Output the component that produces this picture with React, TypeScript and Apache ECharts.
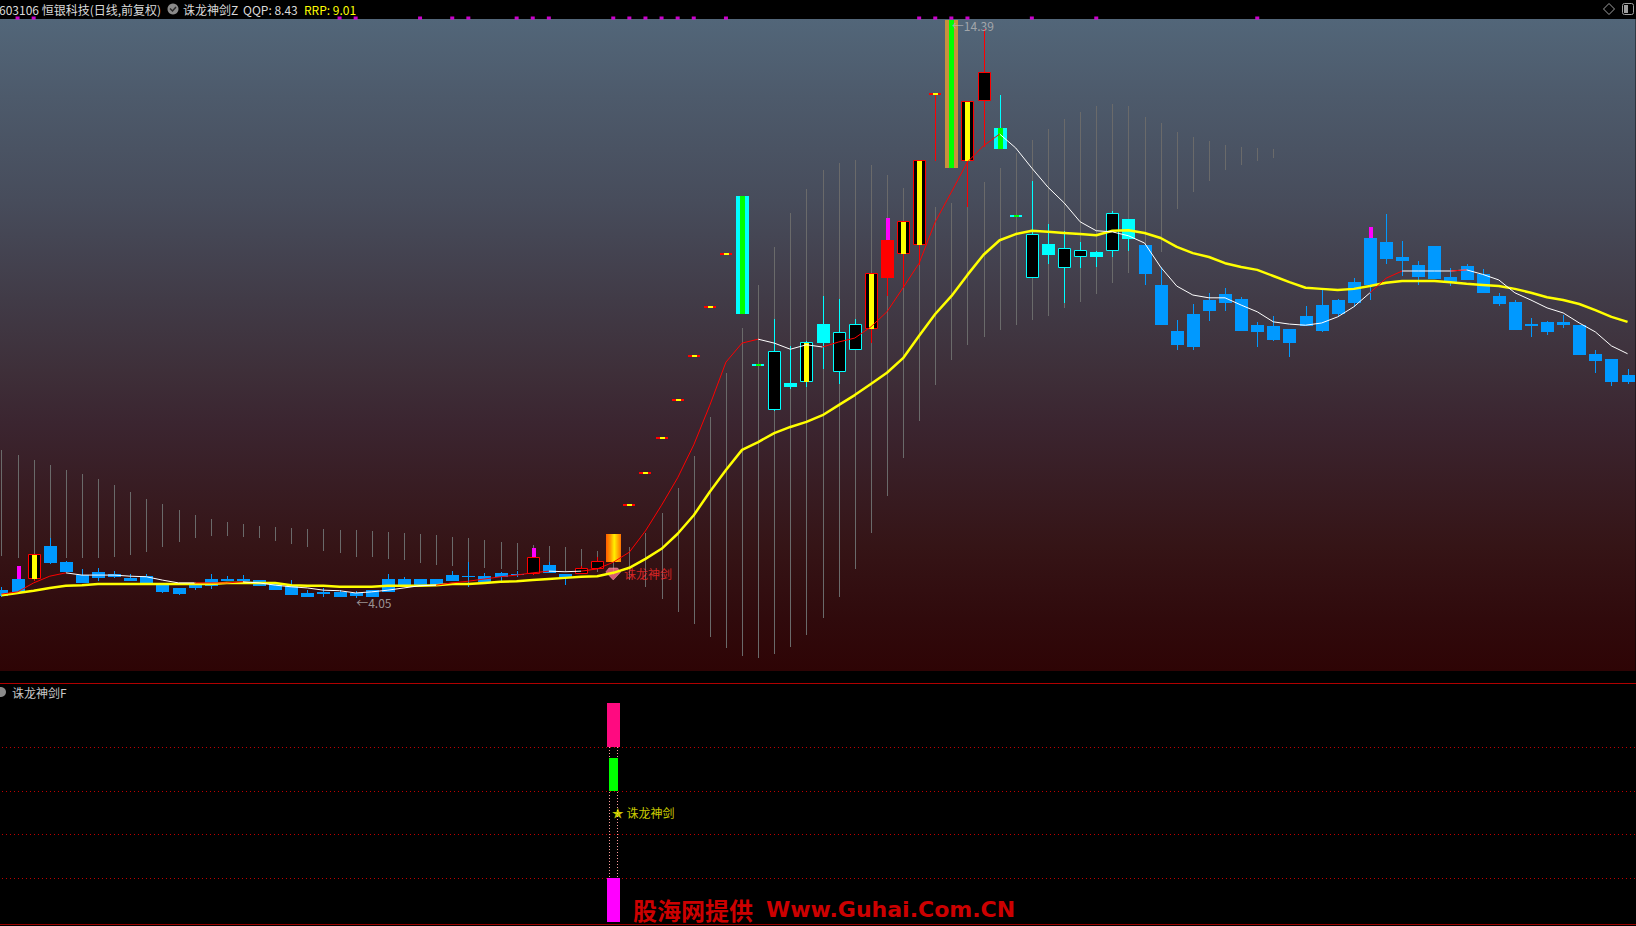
import React, { useEffect, useRef } from "react";
import * as echarts from "echarts";

const N = 102;
const categories: string[] = Array.from({ length: N }, (_, i) => `K${i + 1}`);

// ---- K-line values (price) ----
const opens = [
  4.19, 4.39, 4.39, 4.98, 4.69, 4.46, 4.52, 4.48, 4.41, 4.44,
  4.28, 4.23, 4.28, 4.39, 4.39, 4.39, 4.37, 4.30, 4.27, 4.14,
  4.16, 4.16, 4.14, 4.07, 4.16, 4.39, 4.39, 4.39, 4.46, 4.44,
  4.44, 4.50, 4.48, 4.48, 4.64, 4.48, 4.48, 4.57, 4.69, 5.71,
  6.28, 6.91, 7.60, 8.38, 9.26, 10.20, 11.24, 8.22, 7.41, 7.90,
  7.91, 8.95, 8.09, 8.49, 8.86, 9.77, 10.20, 10.37, 13.07, 14.39,
  11.87, 12.94, 12.46, 10.88, 9.77, 10.38, 9.95, 10.15, 10.24, 10.26,
  10.83, 10.37, 9.65, 8.83, 8.54, 9.38, 9.49, 9.40, 8.93, 8.92,
  8.86, 9.10, 8.83, 9.38, 9.33, 9.65, 10.42, 10.15, 10.01, 10.35,
  9.79, 9.99, 9.84, 9.45, 9.35, 8.95, 8.99, 8.99, 8.93, 8.42,
  8.33, 8.04,
];
const closes = [
  4.08, 4.16, 4.84, 4.68, 4.52, 4.32, 4.41, 4.43, 4.35, 4.32,
  4.16, 4.12, 4.23, 4.27, 4.35, 4.35, 4.27, 4.19, 4.10, 4.07,
  4.12, 4.07, 4.09, 4.19, 4.39, 4.27, 4.28, 4.28, 4.35, 4.43,
  4.34, 4.43, 4.46, 4.78, 4.50, 4.41, 4.59, 4.71, 5.19, 5.71,
  6.28, 6.91, 7.60, 8.38, 9.26, 10.20, 9.13, 8.22, 8.47, 7.82,
  8.63, 8.61, 8.81, 8.95, 9.86, 10.45, 10.79, 11.89, 13.07, 11.74,
  12.94, 13.46, 12.08, 10.88, 10.56, 10.19, 10.31, 10.28, 10.15, 10.94,
  10.47, 9.84, 8.93, 8.58, 9.13, 9.18, 9.33, 8.83, 8.81, 8.67,
  8.61, 8.92, 9.29, 9.13, 9.70, 10.49, 10.11, 10.08, 9.79, 9.76,
  9.70, 9.74, 9.51, 9.31, 8.84, 8.92, 8.81, 8.93, 8.40, 8.29,
  7.91, 7.91,
];
const lows = [
  4.06, 4.14, 4.35, 4.66, 4.52, 4.32, 4.35, 4.41, 4.35, 4.32,
  4.14, 4.10, 4.19, 4.21, 4.35, 4.35, 4.27, 4.19, 4.10, 4.06,
  4.07, 4.07, 4.05, 4.06, 4.16, 4.27, 4.28, 4.28, 4.35, 4.25,
  4.34, 4.34, 4.43, 4.46, 4.50, 4.28, 4.48, 4.57, 4.69, 5.71,
  6.28, 6.91, 7.60, 8.38, 9.26, 10.20, 9.13, 8.22, 7.40, 7.79,
  7.82, 8.15, 7.88, 8.49, 8.61, 9.45, 9.60, 10.01, 11.87, 11.74,
  11.04, 12.12, 12.08, 10.88, 9.77, 10.02, 9.33, 9.95, 9.97, 10.15,
  10.26, 9.65, 8.93, 8.49, 8.49, 9.01, 9.18, 8.83, 8.54, 8.65,
  8.36, 8.92, 8.81, 9.10, 9.26, 9.38, 10.02, 9.81, 9.65, 9.76,
  9.63, 9.74, 9.51, 9.27, 8.84, 8.72, 8.76, 8.88, 8.40, 8.08,
  7.84, 7.88,
];
const highs = [
  4.25, 4.62, 4.84, 5.12, 4.71, 4.57, 4.59, 4.53, 4.48, 4.48,
  4.28, 4.23, 4.34, 4.48, 4.44, 4.46, 4.37, 4.30, 4.37, 4.19,
  4.23, 4.19, 4.18, 4.19, 4.48, 4.43, 4.39, 4.39, 4.53, 4.69,
  4.50, 4.52, 4.53, 4.94, 4.69, 4.48, 4.62, 4.78, 5.19, 5.71,
  6.28, 6.91, 7.60, 8.38, 9.26, 10.20, 11.24, 8.22, 9.04, 8.56,
  8.65, 9.45, 9.40, 9.04, 9.86, 10.85, 10.79, 11.89, 13.07, 14.39,
  12.94, 14.23, 13.05, 10.88, 11.51, 10.74, 10.62, 10.42, 10.26, 10.97,
  10.83, 10.37, 9.97, 9.02, 9.31, 9.51, 9.60, 9.43, 8.99, 9.10,
  8.86, 9.27, 9.56, 9.40, 9.77, 10.69, 10.92, 10.44, 10.08, 10.35,
  9.95, 10.02, 9.94, 9.51, 9.38, 9.06, 9.01, 9.11, 8.93, 8.49,
  8.33, 8.15,
];
// indicator state of each bar
const candleKinds = [
  "B", "B", "RY", "B", "B", "B", "B", "B", "B", "B",
  "B", "B", "B", "B", "B", "B", "B", "B", "B", "B",
  "B", "B", "B", "B", "B", "B", "B", "B", "B", "B",
  "B", "B", "B", "RH", "B", "B", "RH", "RH", "G", "DR",
  "DR", "DR", "DR", "DR", "DR", "DR", "CG", "DC", "CH", "C",
  "CY", "C", "CH", "CH", "RY", "R", "RY", "RY", "DR", "OG",
  "RY", "RH", "CG", "DC", "CH", "C", "CH", "CH", "C", "CH",
  "C", "B", "B", "B", "B", "B", "B", "B", "B", "B",
  "B", "B", "B", "B", "B", "B", "B", "B", "B", "B",
  "B", "B", "B", "B", "B", "B", "B", "B", "B", "B",
  "B", "B",
];
const magentaUpper = [1, 33, 55, 85];

// ---- moving averages ----
const maShort = [
  4.12, 4.16, 4.32, 4.44, 4.50, 4.46, 4.46, 4.46, 4.44, 4.43,
  4.37, 4.32, 4.32, 4.32, 4.32, 4.34, 4.32, 4.28, 4.25, 4.23,
  4.19, 4.18, 4.14, 4.16, 4.19, 4.23, 4.27, 4.28, 4.32, 4.35,
  4.39, 4.43, 4.46, 4.50, 4.53, 4.52, 4.53, 4.57, 4.69, 4.87,
  5.25, 5.71, 6.20, 6.79, 7.50, 8.27, 8.61, 8.68, 8.61, 8.50,
  8.58, 8.54, 8.63, 8.70, 8.90, 9.17, 9.60, 10.04, 10.78, 11.31,
  11.85, 12.14, 12.35, 12.10, 11.74, 11.40, 11.12, 10.78, 10.62, 10.60,
  10.53, 10.40, 9.97, 9.63, 9.47, 9.42, 9.42, 9.29, 9.17, 8.99,
  8.95, 8.93, 8.97, 9.08, 9.26, 9.51, 9.77, 9.90, 9.90, 9.90,
  9.90, 9.92, 9.84, 9.74, 9.51, 9.38, 9.24, 9.15, 8.97, 8.81,
  8.56, 8.42,
];
const redRuns = [[0, 4], [12, 15], [27, 34], [36, 47], [51, 62], [85, 87], [90, 91]];
const maLong = [
  4.10, 4.14, 4.18, 4.23, 4.27, 4.28, 4.30, 4.30, 4.30, 4.30,
  4.30, 4.30, 4.30, 4.30, 4.32, 4.32, 4.32, 4.32, 4.28, 4.27,
  4.27, 4.25, 4.25, 4.25, 4.27, 4.27, 4.27, 4.28, 4.30, 4.30,
  4.32, 4.34, 4.35, 4.37, 4.39, 4.41, 4.43, 4.44, 4.50, 4.59,
  4.75, 4.93, 5.20, 5.53, 5.95, 6.34, 6.70, 6.84, 7.00, 7.11,
  7.20, 7.32, 7.50, 7.68, 7.88, 8.08, 8.34, 8.74, 9.13, 9.45,
  9.83, 10.19, 10.45, 10.56, 10.62, 10.60, 10.58, 10.56, 10.54, 10.62,
  10.63, 10.58, 10.49, 10.33, 10.22, 10.15, 10.04, 9.97, 9.92, 9.81,
  9.70, 9.60, 9.58, 9.56, 9.58, 9.63, 9.69, 9.72, 9.72, 9.72,
  9.70, 9.67, 9.65, 9.63, 9.58, 9.51, 9.43, 9.38, 9.31, 9.20,
  9.08, 8.99,
];

// ---- grey indicator sticks (bars 0..79) ----
const stickTops = [
  6.70, 6.61, 6.52, 6.43, 6.34, 6.27, 6.18, 6.07, 5.95, 5.82,
  5.73, 5.62, 5.53, 5.46, 5.41, 5.37, 5.34, 5.32, 5.30, 5.28,
  5.28, 5.27, 5.27, 5.25, 5.23, 5.21, 5.20, 5.18, 5.14, 5.12,
  5.09, 5.05, 5.03, 5.00, 4.98, 4.96, 4.93, 4.89, 4.93, 4.96,
  5.21, 5.57, 6.02, 6.59, 7.29, 8.08, 8.88, 9.65, 10.33, 10.94,
  11.37, 11.71, 11.83, 11.89, 11.80, 11.62, 11.38, 11.22, 11.04, 11.12,
  11.26, 11.49, 11.74, 12.01, 12.24, 12.44, 12.62, 12.74, 12.85, 12.89,
  12.85, 12.65, 12.55, 12.39, 12.30, 12.23, 12.15, 12.12, 12.10, 12.08,
];
const stickBottoms = [
  4.80, 4.77, 4.77, 4.77, 4.77, 4.77, 4.77, 4.78, 4.82, 4.87,
  4.96, 5.05, 5.12, 5.16, 5.16, 5.14, 5.12, 5.07, 5.02, 4.96,
  4.89, 4.86, 4.78, 4.78, 4.75, 4.73, 4.68, 4.64, 4.62, 4.61,
  4.59, 4.57, 4.55, 4.53, 4.53, 4.53, 4.52, 4.52, 4.46, 4.37,
  4.25, 4.03, 3.80, 3.59, 3.36, 3.15, 3.02, 2.98, 3.04, 3.18,
  3.39, 3.69, 4.07, 4.57, 5.21, 5.87, 6.55, 7.22, 7.86, 8.31,
  8.58, 8.72, 8.84, 8.93, 9.02, 9.10, 9.24, 9.35, 9.49, 9.69,
  9.86, 10.04, 10.24, 11.01, 11.31, 11.51, 11.71, 11.80, 11.87, 11.92,
];

const topMarks = [1, 2, 21, 22, 26, 28, 29, 32, 33, 34, 38, 39, 40, 41, 42, 43, 45, 57, 58, 59, 60, 64, 68, 78];
const extremeIdx = [59, 22];
const extremeVal = [14.39, 4.05];
const extremeText = ["←14.39", "←4.05"];
const signalIndex = 38;
const signalMarkPrice = 4.48;
const signalName = "诛龙神剑";
// lower panel
const sigFrom = [80, 60, 0];
const sigTo = [100, 75, 20];
const panelLevels = [20, 40, 60, 80];
const starLevel = 50;

const header = { code: "603106 恒银科技(日线,前复权)", ind: "诛龙神剑Z", qqp: "QQP: 8.43", rrp: "RRP: 9.01" };

// ---- styles ----
const FONT = '"Noto Sans CJK SC", "Noto Sans", sans-serif';
const KIND_COLOR: Record<string, string> = {
  B: "#0099FF", C: "#00FFFF", CH: "#00FFFF", CY: "#00FFFF",
  R: "#FF0000", RH: "#FF0000", RY: "#FF0000",
  CG: "#00FFFF", OG: "#C8913C", DR: "#FF0000", DC: "#00FFFF", G: "#FF9900",
};
const YELLOW = "#FFFF00";
const GREEN = "#00FF00";
const MAGENTA = "#FF00FF";
const sigColors = ["#FF0A80", "#00FF00", "#FF00FF"];
const sigHalf = [6, 4, 6];
const sigWidth = [13, 9, 13];

// chart canvas is shifted left by OX px inside a clipped page box
const OX = 7;
const PAGE_W = 1636;
const PAGE_H = 926;

const segRed = (k: number) => redRuns.some(([a, b]) => a <= k && k + 1 <= b);
const maShortRed = maShort.map((v, i) => ((i > 0 && segRed(i - 1)) || (i < N - 1 && segRed(i)) ? v : null));
const maShortWhite = maShort.map((v, i) => ((i > 0 && !segRed(i - 1)) || (i < N - 1 && !segRed(i)) ? v : null));

function renderCandle(params: any, api: any) {
  const idx = params.dataIndex;
  const kind = candleKinds[idx];
  const i = api.value(0);
  const pO = api.coord([i, api.value(1)]);
  const yC = api.coord([i, api.value(2)])[1];
  const yL = api.coord([i, api.value(3)])[1];
  const yH = api.coord([i, api.value(4)])[1];
  const cx = Math.round(pO[0]);
  const yO = pO[1];
  const top = Math.round(Math.min(yO, yC));
  const bot = Math.round(Math.max(yO, yC));
  const w = 13;
  const x0 = cx - 6;
  const wx = cx + 0.5;
  const col = KIND_COLOR[kind];
  const ch: any[] = [];
  const wick = (c: string) => ({
    type: "line",
    shape: { x1: wx, y1: Math.round(yH), x2: wx, y2: Math.round(yL) },
    style: { stroke: c, lineWidth: 1 },
  });
  const h = Math.max(bot - top, 1);
  if (kind === "B" || kind === "C" || kind === "R") {
    ch.push(wick(col));
    ch.push({ type: "rect", shape: { x: x0, y: top, width: w, height: h }, style: { fill: col } });
  } else if (kind === "CH" || kind === "RH" || kind === "CY" || kind === "RY") {
    ch.push(wick(col));
    ch.push({
      type: "rect",
      shape: { x: x0 + 0.5, y: top + 0.5, width: w - 1, height: Math.max(bot - top - 1, 1) },
      style: { fill: "#000", stroke: col, lineWidth: 1 },
    });
    if (kind === "CY" || kind === "RY") {
      ch.push({ type: "rect", shape: { x: cx - 2, y: top + 1, width: 5, height: Math.max(bot - top - 1, 1) }, style: { fill: YELLOW } });
    }
  } else if (kind === "G") {
    ch.push({
      type: "rect",
      shape: { x: x0 - 1, y: top, width: w + 2, height: h },
      style: {
        fill: new echarts.graphic.LinearGradient(0, 0, 1, 0, [
          { offset: 0, color: "#FF5A00" },
          { offset: 0.3, color: "#FF9A00" },
          { offset: 0.55, color: "#FFF000" },
          { offset: 0.8, color: "#FFA800" },
          { offset: 1, color: "#FF7000" },
        ]),
      },
    });
  } else if (kind === "CG" || kind === "OG") {
    ch.push(wick(col));
    ch.push({ type: "rect", shape: { x: x0, y: top, width: w, height: h }, style: { fill: col } });
    ch.push({ type: "rect", shape: { x: cx - 2, y: top, width: 5, height: h }, style: { fill: GREEN } });
  } else if (kind === "DR" || kind === "DC") {
    if (yL - yH > 1) ch.push(wick(col));
    const yy = Math.round(yC) - 1;
    ch.push({ type: "rect", shape: { x: x0, y: yy, width: 12, height: 2 }, style: { fill: col } });
    ch.push({ type: "rect", shape: { x: cx - 2, y: yy, width: 5, height: 2 }, style: { fill: kind === "DR" ? YELLOW : GREEN } });
  }
  if (magentaUpper.includes(idx)) {
    const yh = Math.round(yH);
    ch.push({ type: "rect", shape: { x: cx - 1, y: yh, width: 4, height: Math.max(top - yh, 1) }, style: { fill: MAGENTA } });
  }
  return { type: "group", children: ch };
}

function renderStick(params: any, api: any) {
  const i = api.value(0);
  const p1 = api.coord([i, api.value(1)]);
  const p2 = api.coord([i, api.value(2)]);
  const x = Math.round(p1[0]) + 0.5;
  return {
    type: "line",
    shape: { x1: x, y1: Math.round(p1[1]), x2: x, y2: Math.round(p2[1]) },
    style: { stroke: "#6a6a6a", lineWidth: 1 },
  };
}

function renderSignalBar(params: any, api: any) {
  const k = params.dataIndex;
  const i = api.value(0);
  const p1 = api.coord([i, api.value(1)]);
  const p2 = api.coord([i, api.value(2)]);
  const cx = Math.round(p1[0]);
  return {
    type: "rect",
    shape: { x: cx - sigHalf[k], y: Math.round(p2[1]), width: sigWidth[k], height: Math.round(p1[1]) - Math.round(p2[1]) },
    style: { fill: sigColors[k] },
  };
}

function renderSignalGuide(params: any, api: any) {
  const i = api.value(0);
  const p1 = api.coord([i, api.value(1)]);
  const p2 = api.coord([i, api.value(2)]);
  const cx = Math.round(p1[0]);
  const mk = (x: number) => ({
    type: "line",
    shape: { x1: x, y1: Math.round(p2[1]), x2: x, y2: Math.round(p1[1]) },
    style: { stroke: "#FF9C9C", lineWidth: 1, lineDash: [1, 2] },
  });
  return { type: "group", children: [mk(cx - 4 + 0.5), mk(cx + 4 + 0.5)] };
}

function renderLevel(params: any, api: any) {
  const cs = params.coordSys;
  const y = Math.round(api.coord([0, api.value(1)])[1]) + 0.5;
  return {
    type: "line",
    shape: { x1: OX + 2, y1: y, x2: cs.x + cs.width, y2: y },
    style: { stroke: "#C00000", lineWidth: 1, lineDash: [1, 3] },
  };
}

const gridLeft = 0.4;
const gridRight = 0.4;

function buildOption(): any {
  const xAxis = [0, 1, 2].map((g) => ({
    type: "category",
    gridIndex: g,
    data: categories,
    boundaryGap: true,
    show: false,
  }));
  const text = (x: number, y: number, t: string, fill: string, extra: any = {}) => ({
    type: "text",
    x: x + OX,
    y,
    silent: true,
    style: { text: t, fill, fontSize: 12, fontFamily: FONT, verticalAlign: "middle", align: "left", ...extra },
  });
  return {
    animation: false,
    backgroundColor: "#000",
    grid: [
      {
        left: gridLeft, right: gridRight, top: 19, height: 652, show: true, borderWidth: 0,
        backgroundColor: {
          type: "linear", x: 0, y: 0, x2: 0, y2: 1,
          colorStops: [
            { offset: 0, color: "#526679" },
            { offset: 0.12, color: "#4d5a6b" },
            { offset: 0.28, color: "#474c5b" },
            { offset: 0.43, color: "#413b47" },
            { offset: 0.54, color: "#3e2f39" },
            { offset: 0.62, color: "#3b2530" },
            { offset: 0.81, color: "#351416" },
            { offset: 0.92, color: "#300a0c" },
            { offset: 1, color: "#2e0405" },
          ],
        },
      },
      { left: gridLeft, right: gridRight, top: 15, height: 6 },
      { left: gridLeft, right: gridRight, top: 703, height: 219 },
    ],
    xAxis,
    yAxis: [
      { type: "value", gridIndex: 0, min: 2.744, max: 14.408, show: false },
      { type: "value", gridIndex: 1, min: 0, max: 1, show: false },
      { type: "value", gridIndex: 2, min: 0, max: 100, show: false },
    ],
    series: [
      {
        type: "custom", name: "sticks", xAxisIndex: 0, yAxisIndex: 0,
        renderItem: renderStick,
        encode: { x: 0, y: [1, 2] },
        data: stickTops.map((t, i) => [i, t, stickBottoms[i]]),
        silent: true,
      },
      {
        type: "custom", name: "kline", xAxisIndex: 0, yAxisIndex: 0,
        renderItem: renderCandle,
        encode: { x: 0, y: [1, 2, 3, 4] },
        data: opens.map((o, i) => [i, o, closes[i], lows[i], highs[i]]),
        silent: true,
      },
      {
        type: "line", name: "MA long", xAxisIndex: 0, yAxisIndex: 0, data: maLong,
        symbol: "none", lineStyle: { color: "#FFFF00", width: 2.5 }, silent: true,
      },
      {
        type: "line", name: "MA short", xAxisIndex: 0, yAxisIndex: 0, data: maShortWhite,
        symbol: "none", connectNulls: false, lineStyle: { color: "#FFFFFF", width: 1 }, silent: true,
      },
      {
        type: "line", name: "MA short up", xAxisIndex: 0, yAxisIndex: 0, data: maShortRed,
        symbol: "none", connectNulls: false, lineStyle: { color: "#FF0000", width: 1 }, silent: true,
      },
      {
        type: "scatter", name: "extremes", xAxisIndex: 0, yAxisIndex: 0,
        data: extremeIdx.map((ix, k) => [ix, extremeVal[k]]),
        symbolSize: 1, itemStyle: { color: "rgba(0,0,0,0)" }, silent: true,
        label: {
          show: true, position: "right", distance: 0, offset: [0, 5],
          formatter: (p: any) => extremeText[p.dataIndex],
          color: "#B8B8B8", fontSize: 12, fontFamily: FONT,
        },
      },
      {
        type: "scatter", name: "signal", xAxisIndex: 0, yAxisIndex: 0,
        data: [[signalIndex, signalMarkPrice]],
        symbol: "path://M3,0 L11,0 L14,4 L7,12 L0,4 Z", symbolSize: [15, 12],
        itemStyle: { color: "#FF7088", borderColor: "#FFC0C8", borderWidth: 0.5 }, silent: true,
        label: {
          show: true, position: "right", distance: 3, formatter: signalName,
          color: "#FF2A2A", fontSize: 12, fontFamily: FONT,
        },
      },
      {
        type: "scatter", name: "topmarks", xAxisIndex: 1, yAxisIndex: 1,
        data: topMarks.map((i) => [i, 0.5]), symbol: "rect", symbolSize: [4, 3],
        itemStyle: { color: MAGENTA }, silent: true,
      },
      {
        type: "custom", name: "levels", xAxisIndex: 2, yAxisIndex: 2,
        renderItem: renderLevel, data: panelLevels.map((v) => [0, v]), silent: true,
      },
      {
        type: "custom", name: "guide", xAxisIndex: 2, yAxisIndex: 2,
        renderItem: renderSignalGuide, data: [[signalIndex, sigTo[2], sigFrom[0]]], silent: true,
      },
      {
        type: "custom", name: "signal bars", xAxisIndex: 2, yAxisIndex: 2,
        renderItem: renderSignalBar, data: sigFrom.map((f, k) => [signalIndex, f, sigTo[k]]), silent: true,
      },
      {
        type: "scatter", name: "star", xAxisIndex: 2, yAxisIndex: 2,
        data: [[signalIndex, starLevel]], symbolSize: 1, itemStyle: { color: "rgba(0,0,0,0)" }, silent: true,
        label: {
          show: true, position: "right", distance: -2, formatter: "★ " + signalName,
          color: "#FFFF00", fontSize: 12, fontFamily: FONT,
        },
      },
    ],
    graphic: [
      text(-1, 9, header.code, "#DADADA"),
      { type: "circle", shape: { cx: 173 + OX, cy: 9, r: 5.5 }, style: { fill: "#8a8a8a" }, silent: true },
      { type: "polyline", shape: { points: [[170 + OX, 8.5], [172.5 + OX, 11], [176 + OX, 7]] }, style: { stroke: "#2a2a2a", lineWidth: 1.5, fill: null }, silent: true },
      text(183, 9, header.ind, "#DADADA"),
      text(243, 9, header.qqp, "#DADADA"),
      text(304, 9, header.rrp, "#FFFF00"),
      { type: "polygon", shape: { points: [[1609 + OX, 3.5], [1614.5 + OX, 9], [1609 + OX, 14.5], [1603.5 + OX, 9]] }, style: { stroke: "#a0a0a0", fill: null, lineWidth: 1 }, silent: true },
      { type: "rect", shape: { x: 1622.5 + OX, y: 3.5, width: 11, height: 11, r: 2 }, style: { stroke: "#a0a0a0", fill: null, lineWidth: 1 }, silent: true },
      { type: "rect", shape: { x: 1624 + OX, y: 5, width: 4, height: 8 }, style: { fill: "#a0a0a0" }, silent: true },
      { type: "line", shape: { x1: OX, y1: 683.5, x2: PAGE_W + OX, y2: 683.5 }, style: { stroke: "#B00000", lineWidth: 1 }, silent: true },
      { type: "line", shape: { x1: OX, y1: 924.5, x2: PAGE_W + OX, y2: 924.5 }, style: { stroke: "#9a0000", lineWidth: 1 }, silent: true },
      { type: "circle", shape: { cx: 1 + OX, cy: 692, r: 5 }, style: { fill: "#8a8a8a" }, silent: true },
      text(12, 692, "诛龙神剑F", "#C8C8C8"),
      text(633, 909, "股海网提供", "#CC0000", { fontSize: 24, fontWeight: "bold" }),
      text(766, 909, "Www.Guhai.Com.CN", "#CC0000", { fontSize: 22, fontWeight: "bold", fontFamily: '"DejaVu Sans", sans-serif' }),
    ],
  };
}

export default function App() {
  const ref = useRef<HTMLDivElement>(null);
  useEffect(() => {
    document.body.style.margin = "0";
    document.body.style.background = "#000";
    const chart = echarts.init(ref.current as HTMLDivElement, null, { renderer: "svg" });
    chart.setOption(buildOption());
    return () => chart.dispose();
  }, []);
  return (
    <div style={{ position: "relative", width: PAGE_W, height: PAGE_H, overflow: "hidden", background: "#000" }}>
      <div ref={ref} style={{ position: "absolute", left: -OX, top: 0, width: PAGE_W + OX, height: PAGE_H }} />
    </div>
  );
}
